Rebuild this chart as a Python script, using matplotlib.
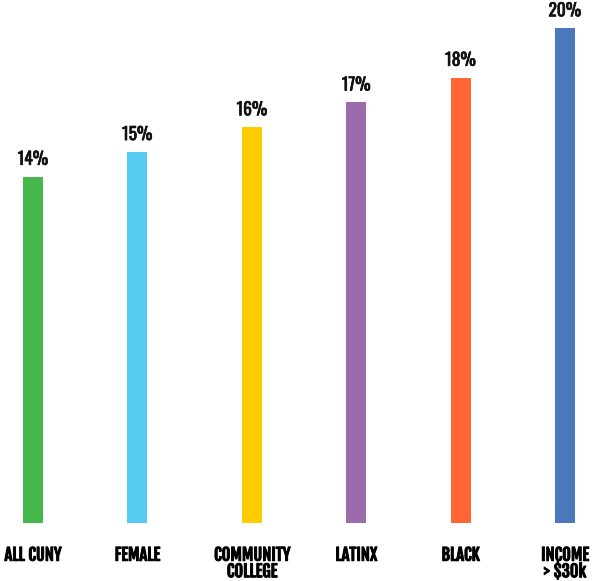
import matplotlib.pyplot as plt
import matplotlib.patheffects as pe

# share of students, by group
groups = ['ALL CUNY', 'FEMALE', 'COMMUNITY\nCOLLEGE', 'LATINX', 'BLACK', 'INCOME\n> $30k']
values = [14, 15, 16, 17, 18, 20]
colors = ['#45b74b', '#56ccf2', '#ffcc00', '#9b6bac', '#ff6633', '#4a78ba']

# layout: bar centres (third one sits a little further right in the original)
xpos = [0, 1, 2.1, 3.1, 4.1, 5.1]

fig = plt.figure(figsize=(5.92, 5.81), dpi=100)
ax = fig.add_axes([0, 1 - 523 / 581, 1, 523 / 581])

ax.bar(xpos, values, width=0.19, color=colors)
for x, v in zip(xpos, values):
    ax.text(x, v + 0.35, '%d%%' % v, ha='center', va='bottom', color='#111111',
            fontsize=12.5, family=['Oswald', 'DejaVu Sans'],
            path_effects=[pe.withStroke(linewidth=0.5, foreground='#111111')])

ax.set_xlim(-33 / 104.3, (592 - 33) / 104.3)
ax.set_ylim(0, 523 / 24.75)
ax.axis('off')

for x, g in zip(xpos, groups):
    ax.text(x, -0.88, g, ha='center', va='top', fontsize=12,
            linespacing=0.78, family=['Fjalla One', 'DejaVu Sans'],
            path_effects=[pe.withStroke(linewidth=0.7, foreground='black')])

fig.savefig('out.png', dpi=100)
